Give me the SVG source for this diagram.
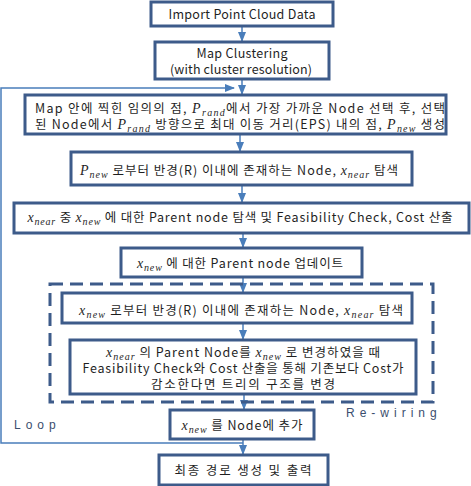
<svg xmlns="http://www.w3.org/2000/svg" width="471" height="486" viewBox="0 0 471 486">
<defs>
<style>
.box{fill:#fff;stroke:#3d5b8a;stroke-width:3}
.dash{fill:none;stroke:#3d5b8a;stroke-width:3;stroke-dasharray:13 7}
.t{font-family:"Noto Sans CJK KR","Malgun Gothic",sans-serif;font-size:12.5px;fill:#1f1f1f;text-anchor:middle}
.m{font-family:"Liberation Serif",serif;font-style:italic;font-size:14px}
.s{font-family:"Liberation Serif",serif;font-style:italic;font-size:10px}
.c{fill:none;stroke:#4a7ebb;stroke-width:1.5}
.lbl{font-family:"Liberation Sans",sans-serif;font-size:12px;fill:#3b4e6e;letter-spacing:5px}
</style>
<marker id="ah" markerWidth="10" markerHeight="8" refX="9" refY="4" orient="auto" markerUnits="userSpaceOnUse">
<path d="M0,0 L10,4 L0,8 z" fill="#4a7ebb"/>
</marker>
</defs>
<g id="connectors">
<line class="c" x1="242" y1="27" x2="242" y2="41" marker-end="url(#ah)"/>
<line class="c" x1="242" y1="80" x2="242" y2="94" marker-end="url(#ah)"/>
<line class="c" x1="240" y1="135" x2="240" y2="151" marker-end="url(#ah)"/>
<line class="c" x1="242" y1="186" x2="242" y2="202" marker-end="url(#ah)"/>
<line class="c" x1="243" y1="234" x2="243" y2="247" marker-end="url(#ah)"/>
<line class="c" x1="243" y1="278" x2="243" y2="292" marker-end="url(#ah)"/>
<line class="c" x1="243" y1="324" x2="243" y2="339" marker-end="url(#ah)"/>
<line class="c" x1="244" y1="395" x2="244" y2="409" marker-end="url(#ah)"/>
<line class="c" x1="243" y1="440" x2="243" y2="454" marker-end="url(#ah)"/>
<polyline class="c" points="243,443 1,443 1,88 234,88" marker-end="url(#ah)"/>
</g>
<g id="rewiring">
<rect class="dash" x="50" y="284" width="383" height="118"/>
<text class="lbl" x="346" y="417">Re-wiring</text>
</g>
<text class="lbl" x="14" y="429">Loop</text>
<g id="n1">
<rect class="box" x="151" y="2" width="182" height="24"/>
<text class="t" x="242" y="19" textLength="147" lengthAdjust="spacing">Import Point Cloud Data</text>
</g>
<g id="n2">
<rect class="box" x="155" y="42" width="174" height="37"/>
<text class="t" x="242" y="58" textLength="91" lengthAdjust="spacing">Map Clustering</text>
<text class="t" x="241" y="74" textLength="142" lengthAdjust="spacing">(with cluster resolution)</text>
</g>
<g id="n3">
<rect class="box" x="25" y="95" width="421" height="39"/>
<text class="t" x="240" y="113" textLength="410" lengthAdjust="spacing">Map 안에 찍힌 임의의 점, <tspan class="m">P</tspan><tspan class="s" dy="3">rand</tspan><tspan dy="-3">에서 가장 가까운 Node 선택 후, 선택</tspan></text>
<text class="t" x="240" y="129" textLength="410" lengthAdjust="spacing">된 Node에서 <tspan class="m">P</tspan><tspan class="s" dy="3">rand</tspan><tspan dy="-3"> 방향으로 최대 이동 거리(EPS) 내의 점, </tspan><tspan class="m">P</tspan><tspan class="s" dy="3">new</tspan><tspan dy="-3"> 생성</tspan></text>
</g>
<g id="n4">
<rect class="box" x="71" y="152" width="341" height="33"/>
<text class="t" x="239" y="175" textLength="318" lengthAdjust="spacing"><tspan class="m">P</tspan><tspan class="s" dy="3">new</tspan><tspan dy="-3"> 로부터 반경(R) 이내에 존재하는 Node, </tspan><tspan class="m">x</tspan><tspan class="s" dy="3">near</tspan><tspan dy="-3"> 탐색</tspan></text>
</g>
<g id="n5">
<rect class="box" x="14" y="203" width="455" height="30"/>
<text class="t" x="240" y="222" textLength="425" lengthAdjust="spacing"><tspan class="m">x</tspan><tspan class="s" dy="3">near</tspan><tspan dy="-3">  중 </tspan><tspan class="m">x</tspan><tspan class="s" dy="3">new</tspan><tspan dy="-3"> 에 대한 Parent node 탐색 및 Feasibility  Check, Cost 산출</tspan></text>
</g>
<g id="n6">
<rect class="box" x="121" y="248" width="241" height="29"/>
<text class="t" x="240" y="268" textLength="206" lengthAdjust="spacing"><tspan class="m">x</tspan><tspan class="s" dy="3">new</tspan><tspan dy="-3"> 에 대한 Parent node 업데이트</tspan></text>
</g>
<g id="n7">
<rect class="box" x="62" y="293" width="350" height="30"/>
<text class="t" x="241" y="315" textLength="324" lengthAdjust="spacing"><tspan class="m">x</tspan><tspan class="s" dy="3">new</tspan><tspan dy="-3"> 로부터 반경(R) 이내에 존재하는 Node, </tspan><tspan class="m">x</tspan><tspan class="s" dy="3">near</tspan><tspan dy="-3"> 탐색</tspan></text>
</g>
<g id="n8">
<rect class="box" x="70" y="340" width="346" height="54"/>
<text class="t" x="243" y="357" textLength="274" lengthAdjust="spacing"><tspan class="m">x</tspan><tspan class="s" dy="3">near</tspan><tspan dy="-3"> 의 Parent Node를 </tspan><tspan class="m">x</tspan><tspan class="s" dy="3">new</tspan><tspan dy="-3"> 로 변경하였을 때</tspan></text>
<text class="t" x="243" y="373" textLength="321" lengthAdjust="spacing">Feasibility  Check와 Cost 산출을 통해 기존보다 Cost가</text>
<text class="t" x="243" y="389" textLength="184" lengthAdjust="spacing">감소한다면 트리의 구조를 변경</text>
</g>
<g id="n9">
<rect class="box" x="170" y="410" width="144" height="29"/>
<text class="t" x="242" y="430" textLength="121" lengthAdjust="spacing"><tspan class="m">x</tspan><tspan class="s" dy="3">new</tspan><tspan dy="-3"> 를 Node에 추가</tspan></text>
</g>
<g id="n10">
<rect class="box" x="159" y="455" width="169" height="30"/>
<text class="t" x="243" y="475" textLength="137" lengthAdjust="spacing">최종 경로 생성 및 출력</text>
</g>
</svg>
